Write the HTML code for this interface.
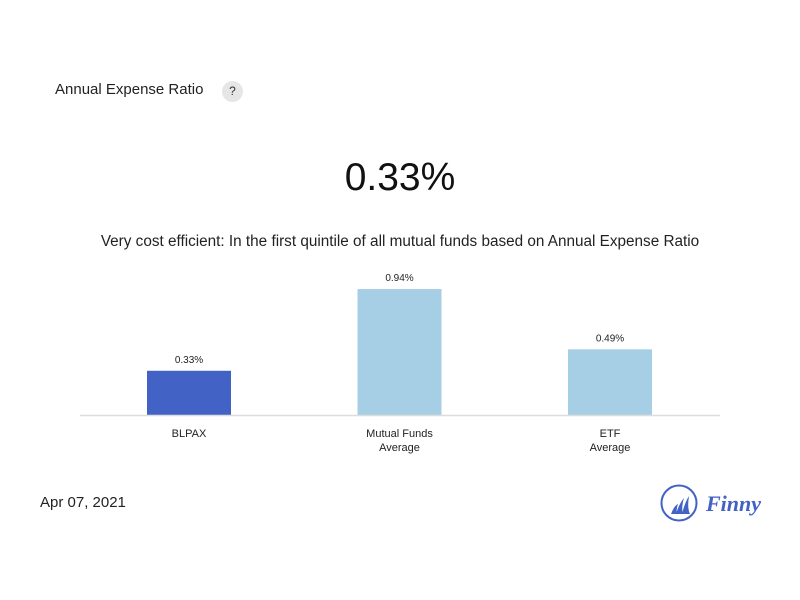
<!DOCTYPE html>
<html><head><meta charset="utf-8"><style>
body{margin:0;width:800px;height:600px;background:#fff;font-family:"Liberation Sans",sans-serif;position:relative;overflow:hidden;color:#222}
.a{position:absolute}
</style></head><body>
<div class="a" style="left:55px;top:81px;font-size:15px;color:#222">Annual Expense Ratio</div>
<div class="a" style="left:222px;top:81px;width:21px;height:21px;border-radius:50%;background:#e6e6e6;font-size:12px;text-align:center;line-height:21px;color:#333">?</div>
<div class="a" style="left:0;width:800px;top:156px;text-align:center;font-size:39px;color:#111">0.33%</div>
<div class="a" style="left:0;width:800px;top:233px;text-align:center;font-size:15.3px;color:#222">Very cost efficient: In the first quintile of all mutual funds based on Annual Expense Ratio</div>
<svg class="a" style="left:0;top:0" width="800" height="600" id="chart"></svg>
<div class="a" style="left:40px;top:494px;font-size:15px;color:#222">Apr 07, 2021</div>
<svg class="a" style="left:660px;top:484px" width="110" height="40">
<circle cx="19" cy="19" r="17.5" fill="none" stroke="#4263c5" stroke-width="2"/>
<path d="M11 30 Q14 22 18 20 Q16 26 17 30Z M16 30 Q19 20 24 14 Q21 24 23 30Z M22 30 Q25 18 29 12 Q27 24 30 30Z" fill="#4263c5"/>
<text x="46" y="27" font-family="Liberation Serif,serif" font-style="italic" font-weight="bold" font-size="22" fill="#4263c5">Finny</text>
</svg>
<script>
const categories=["BLPAX","Mutual Funds|Average","ETF|Average"];
const values=[0.33,0.94,0.49];
const valueLabels=["0.33%","0.94%","0.49%"];
const colors=["#4263c5","#a6cee5","#a6cee5"];
const svg=document.getElementById('chart');const NS="http://www.w3.org/2000/svg";
const base=415,scale=134,x0=80,x1=720,bw=84;
function y(v){return base-v*scale;}
function mk(t,a){const e=document.createElementNS(NS,t);for(const k in a)e.setAttribute(k,a[k]);svg.appendChild(e);return e;}
values.forEach((v,i)=>{
 const cx=189+i*210.5;
 const r=mk('rect',{x:cx-bw/2,y:y(v),width:bw,height:base-y(v),fill:colors[i]});
 
 
 const t=mk('text',{x:cx,y:y(v)-8,'text-anchor':'middle','font-size':10,fill:'#222'});t.textContent=valueLabels[i];
 
 
 categories[i].split('|').forEach((s,j)=>{const c=mk('text',{x:cx,y:437+j*14,'text-anchor':'middle','font-size':11,fill:'#222'});c.textContent=s;
 
 });
});
const ax=mk('line',{x1:x0,x2:x1,y1:base+0.5,y2:base+0.5,stroke:'#ddd','stroke-width':1.5});


</script>
</body></html>
